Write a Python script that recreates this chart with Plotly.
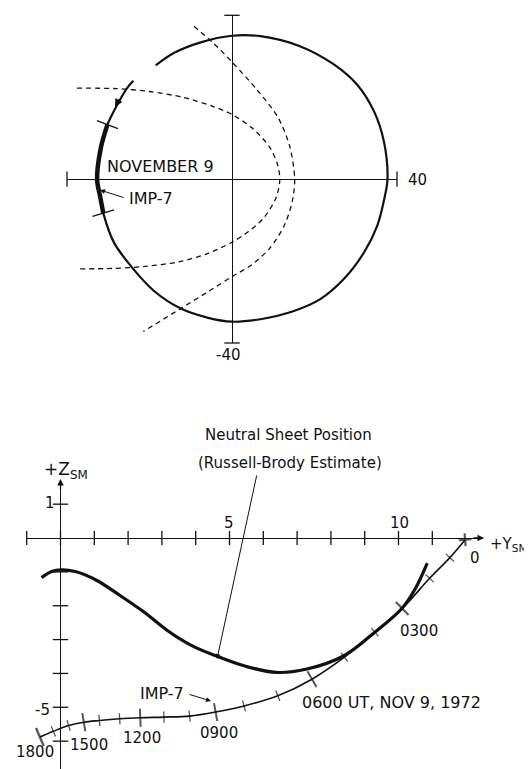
import numpy as np
import plotly.graph_objects as go

W, H = 532, 769
FONT = "DejaVu Sans"

# upper panel: IMP-7 orbit projection and boundaries (earth radii)
orbit_x = [-23.9, -25.4, -27.8, -30.2, -31.8, -32.7, -32.0, -31.2, -28.6, -24.2, -18.9, -12.4,
           -6.0, 0.0, 6.9, 15.0, 21.4, 27.1, 32.0, 35.2, 36.9, 37.7, 36.8, 34.4, 30.3, 24.7,
           16.6, 6.9, 0.0, -7.6, -14.1, -18.5]
orbit_y = [24.0, 22.3, 18.2, 13.3, 7.6, -0.1, -4.1, -8.3, -15.5, -21.6, -27.3, -31.6,
           -33.8, -34.8, -34.2, -32.2, -29.3, -24.4, -17.9, -11.4, -4.9, 0.0, 9.3, 16.6, 23.1,
           28.0, 32.4, 34.9, 35.0, 33.4, 30.8, 27.8]
thick_idx = [3, 4, 5, 6, 7]       # heavy part of the orbit (Nov 9)

inner_x = [-37.6, -28.0, -20.0, -12.0, -5.0, 0.0, 5.0, 9.0, 10.9, 11.6, 10.7, 7.9, 4.0, 0.0,
           -6.0, -13.0, -21.0, -29.0, -37.5]
inner_y = [22.2, 22.1, 21.4, 20.0, 17.9, 15.8, 12.4, 8.0, 4.0, 0.0, -4.5, -9.2, -12.8, -15.4,
           -18.2, -20.2, -21.3, -21.8, -21.9]
outer_x = [-9.2, -4.7, 0.0, 6.0, 11.2, 14.0, 15.2, 14.6, 12.6, 9.2, 4.8, 0.0, -6.0, -12.6, -21.5]
outer_y = [37.3, 33.4, 28.6, 21.9, 15.0, 8.0, 0.0, -5.5, -11.5, -16.8, -20.9, -23.8, -27.6,
           -31.7, -37.2]
top_lim = 40

# lower panel: Y_SM / Z_SM, hourly positions on Nov 9, 1972
hours = list(range(0, 19))
imp_y = [11.97, 11.52, 10.92, 10.11, 9.30, 8.40, 7.44, 6.43, 5.43, 4.59, 3.82, 3.06, 2.36,
         1.75, 1.15, 0.69, 0.24, -0.21, -0.61]
imp_z = [-0.05, -0.58, -1.19, -2.08, -2.78, -3.52, -4.17, -4.66, -4.96, -5.14, -5.26, -5.29,
         -5.31, -5.34, -5.39, -5.44, -5.54, -5.71, -5.88]
neutral_y = [-0.56, -0.26, 0.01, 0.44, 1.05, 1.75, 2.46, 3.16, 3.87, 4.57, 5.48, 6.38, 7.29,
             8.40, 9.30, 10.10, 10.50, 10.85]
neutral_z = [-1.17, -0.99, -0.94, -0.99, -1.24, -1.69, -2.18, -2.73, -3.17, -3.47, -3.79,
             -3.97, -3.87, -3.47, -2.78, -2.08, -1.49, -0.74]
y_ticks = list(range(-1, 12))
z_ticks = [1, -1, -2, -3, -4, -5, -6, -7]

# pixel layout
top_x_px, top_y_px = (59, 389), (7.3, 335)
bot_x_px, bot_y_px = (18.7, 475), (471.8, 767)
bot_xr, bot_yr = [-1, 12.5], [-7, 1.72]


def dom_x(p):
    return [p[0] / W, p[1] / W]


def dom_y(p):
    return [1 - p[1] / H, 1 - p[0] / H]


def normal_angles(xs, ys, sx, sy):
    xs, ys = np.asarray(xs, float), np.asarray(ys, float)
    ang = []
    for i in range(len(xs)):
        a, b = max(i - 1, 0), min(i + 1, len(xs) - 1)
        dx = (xs[b] - xs[a]) * sx
        dy = -(ys[b] - ys[a]) * sy
        ang.append(float(np.degrees(np.arctan2(dy, dx))))
    return ang


fig = go.Figure()
blk = "#111111"

# ---- top panel ----
for xs, ys in [(inner_x, inner_y), (outer_x, outer_y)]:
    fig.add_trace(go.Scatter(x=xs, y=ys, mode="lines", xaxis="x", yaxis="y",
                             line=dict(color=blk, width=1.3, dash="5px,4px", shape="spline",
                                       smoothing=0.8)))
fig.add_trace(go.Scatter(x=orbit_x, y=orbit_y, mode="lines", xaxis="x", yaxis="y",
                         line=dict(color=blk, width=2.2, shape="spline", smoothing=0.9)))
fig.add_trace(go.Scatter(x=[orbit_x[i] for i in thick_idx], y=[orbit_y[i] for i in thick_idx],
                         mode="lines", xaxis="x", yaxis="y",
                         line=dict(color=blk, width=4.5, shape="spline", smoothing=0.9)))
sx_top = (top_x_px[1] - top_x_px[0]) / (2 * top_lim)
sy_top = (top_y_px[1] - top_y_px[0]) / (2 * top_lim)
ang_top = normal_angles(orbit_x, orbit_y, sx_top, sy_top)
ends = [thick_idx[0], thick_idx[-1]]
fig.add_trace(go.Scatter(x=[orbit_x[i] for i in ends], y=[orbit_y[i] for i in ends],
                         mode="markers", xaxis="x", yaxis="y", cliponaxis=False,
                         marker=dict(symbol="line-ns", size=16, angle=[ang_top[i] for i in ends],
                                     line=dict(color=blk, width=1.4))))
# axis end bars
fig.add_trace(go.Scatter(x=[-top_lim, top_lim, 0, 0], y=[0, 0, -top_lim, top_lim],
                         mode="markers", xaxis="x", yaxis="y", cliponaxis=False,
                         marker=dict(symbol=["line-ns", "line-ns", "line-ew", "line-ew"], size=11,
                                     line=dict(color=blk, width=1.3))))

# ---- bottom panel ----
fig.add_trace(go.Scatter(x=neutral_y, y=neutral_z, mode="lines", xaxis="x2", yaxis="y2",
                         line=dict(color=blk, width=3.2, shape="spline")))
fig.add_trace(go.Scatter(x=imp_y, y=imp_z, mode="lines", xaxis="x2", yaxis="y2",
                         line=dict(color=blk, width=1.6, shape="spline")))
sx_b = (bot_x_px[1] - bot_x_px[0]) / (bot_xr[1] - bot_xr[0])
sy_b = (bot_y_px[1] - bot_y_px[0]) / (bot_yr[1] - bot_yr[0])
ang_b = normal_angles(imp_y, imp_z, sx_b, sy_b)
syms, sizes, widths = [], [], []
for h in hours:
    if h == 0:
        syms.append("x-thin"); sizes.append(9); widths.append(2.2)
    elif h == hours[-1]:
        syms.append("line-ns"); sizes.append(14); widths.append(2.4)
    elif h % 3 == 0:
        syms.append("line-ns"); sizes.append(13); widths.append(2)
    else:
        syms.append("line-ns"); sizes.append(8); widths.append(1.3)
fig.add_trace(go.Scatter(x=imp_y, y=imp_z, mode="markers", xaxis="x2", yaxis="y2",
                         cliponaxis=False,
                         marker=dict(symbol=syms, size=sizes, angle=ang_b,
                                     line=dict(color=blk, width=widths))))
fig.add_trace(go.Scatter(x=y_ticks, y=[0] * len(y_ticks), mode="markers", xaxis="x2", yaxis="y2",
                         cliponaxis=False,
                         marker=dict(symbol="line-ns", size=10, line=dict(color=blk, width=1.3))))
fig.add_trace(go.Scatter(x=[0] * len(z_ticks), y=z_ticks, mode="markers", xaxis="x2", yaxis="y2",
                         cliponaxis=False,
                         marker=dict(symbol="line-ew", size=11, line=dict(color=blk, width=1.3))))

ax_common = dict(showgrid=False, showticklabels=False, ticks="", showline=False,
                 zeroline=True, zerolinecolor=blk, zerolinewidth=1.3)
fig.update_layout(
    width=W, height=H, margin=dict(l=0, r=0, t=0, b=0),
    paper_bgcolor="white", plot_bgcolor="rgba(0,0,0,0)", showlegend=False,
    xaxis=dict(domain=dom_x(top_x_px), range=[-top_lim, top_lim], anchor="y", **ax_common),
    yaxis=dict(domain=dom_y(top_y_px), range=[-top_lim, top_lim], anchor="x", **ax_common),
    xaxis2=dict(domain=dom_x(bot_x_px), range=bot_xr, anchor="y2", **ax_common),
    yaxis2=dict(domain=dom_y(bot_y_px), range=bot_yr, anchor="x2", **ax_common),
)


def note(text, px, py, size=15, anchor="center"):
    return dict(text=text, x=px / W, y=1 - py / H, xref="paper", yref="paper", showarrow=False,
                xanchor=anchor, yanchor="middle", font=dict(family=FONT, size=size, color=blk))


def arrow(tip_px, tail_px, width=1.0, head=2, hsize=1.0):
    return dict(text="", x=tip_px[0] / W, y=1 - tip_px[1] / H, xref="paper", yref="paper",
                showarrow=True, ax=tail_px[0] - tip_px[0], ay=tail_px[1] - tip_px[1],
                arrowhead=head, arrowsize=hsize, arrowwidth=width, arrowcolor=blk)


anns = [
    note("NOVEMBER 9", 152, 158, 16),
    note("IMP-7", 143, 190, 16),
    note("40", 409, 172, 15),
    note("-40", 220, 347, 15),
    arrow((92, 182), (117, 190)),
    arrow((107, 99), (112, 90), width=1.6),
    note("Neutral Sheet Position", 280, 427, 15),
    note("(Russell-Brody Estimate)", 282, 455, 15),
    arrow((209, 651), (249, 466)),
    note("+Z<sub>SM</sub>", 34, 462, 17, "left"),
    note("+Y<sub>SM</sub>", 480, 536, 15, "left"),
    arrow((476, 530), (464, 530), width=1.3),
    arrow((52.5, 471), (52.5, 483), width=1.3),
    note("0", 467, 550),
    note("1", 42, 495),
    note("-5", 34, 702),
    note("5", 221, 515),
    note("10", 391, 515),
    note("0300", 411, 623),
    note("0600 UT, NOV 9, 1972", 292, 694, 16, "left"),
    note("0900", 211, 725),
    note("1200", 134, 730),
    note("1500", 81, 737),
    note("1800", 27, 744),
    note("IMP-7", 154, 685, 16),
    arrow((203, 693), (180, 686)),
]
fig.update_layout(annotations=anns)

fig.write_html("out.html")
